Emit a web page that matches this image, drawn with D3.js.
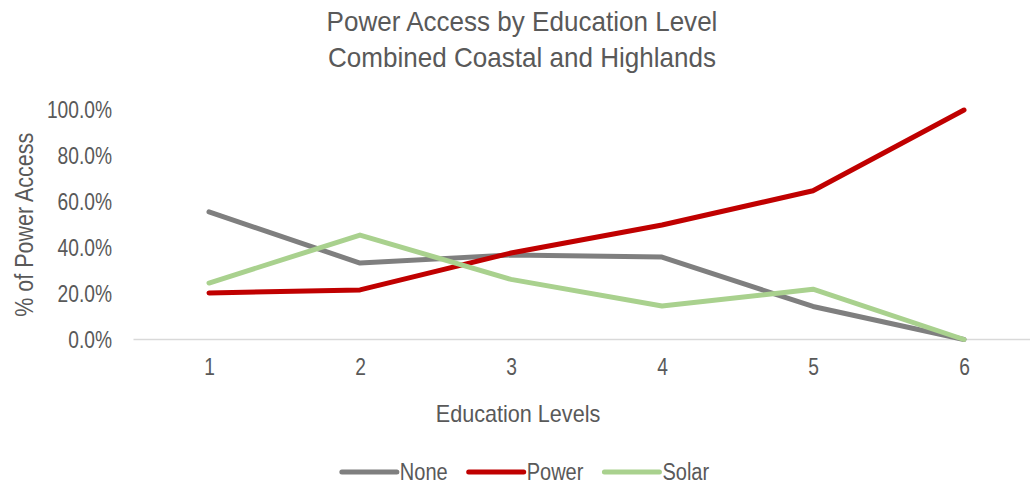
<!DOCTYPE html>
<html>
<head>
<meta charset="utf-8">
<script src="https://cdn.jsdelivr.net/npm/d3@7/dist/d3.min.js"></script>
<style>
  html, body { margin: 0; padding: 0; background: #fff; }
  svg { display: block; }
  text { font-family: "Liberation Sans", Arial, sans-serif; fill: #595959; }
</style>
</head>
<body>
<svg id="chart" width="1030" height="485"></svg>
<script>
// Education levels on the x axis
const categories = ["1", "2", "3", "4", "5", "6"];

// Share of households per access type (fractions)
const noneValues  = [0.556, 0.333, 0.368, 0.359, 0.144, 0.0];
const powerValues = [0.203, 0.216, 0.377, 0.499, 0.648, 1.0];
const solarValues = [0.246, 0.455, 0.262, 0.146, 0.219, 0.0];

const yTicks = [0, 0.2, 0.4, 0.6, 0.8, 1.0];

const seriesNames  = ["None", "Power", "Solar"];
const seriesColors = ["#7f7f7f", "#c00000", "#a9d18e"];

const series = [
  { name: seriesNames[0], values: noneValues,  color: seriesColors[0] },
  { name: seriesNames[1], values: powerValues, color: seriesColors[1] },
  { name: seriesNames[2], values: solarValues, color: seriesColors[2] }
];

const svg = d3.select("#chart");
const W = 1030;
const plot = { left: 133.5, right: 1039.5, top: 110, bottom: 339.5 };

const x = d3.scalePoint().domain(categories).range([plot.left, plot.right]).padding(0.5);
const y = d3.scaleLinear().domain([0, 1]).range([plot.bottom, plot.top]);

// Narrow the glyphs horizontally (no condensed face is available)
function condense(sel, k) {
  sel.each(function () {
    const len = this.getComputedTextLength();
    d3.select(this).attr("textLength", len * k).attr("lengthAdjust", "spacingAndGlyphs");
  });
}

// Title
const title = svg.append("text")
  .attr("text-anchor", "middle")
  .attr("font-size", 28);
title.append("tspan").attr("x", 522).attr("y", 31).text("Power Access by Education Level");
title.append("tspan").attr("x", 522).attr("y", 67).text("Combined Coastal and Highlands");
condense(title.selectAll("tspan"), 0.93);

// Y axis tick labels
const yAxis = d3.axisLeft(y)
  .tickValues(yTicks)
  .tickFormat(d3.format(".1%"))
  .tickSize(0)
  .tickPadding(0);
const gy = svg.append("g")
  .attr("transform", `translate(112,0)`)
  .call(yAxis);
gy.select(".domain").remove();
gy.selectAll("text")
  .attr("font-size", 24)
  .attr("fill", "#595959")
  .attr("font-family", null);
condense(gy.selectAll("text"), 0.8);

// X axis baseline and labels
const xAxis = d3.axisBottom(x).tickSize(0).tickPadding(18);
const gx = svg.append("g")
  .attr("transform", `translate(0,${plot.bottom})`)
  .call(xAxis);
gx.select(".domain")
  .attr("d", `M${plot.left},0H${W}`)
  .attr("stroke", "#d9d9d9")
  .attr("stroke-width", 1.5);
gx.selectAll("text")
  .attr("font-size", 24)
  .attr("fill", "#595959")
  .attr("font-family", null);
condense(gx.selectAll("text"), 0.8);

// Axis titles
const yTitle = svg.append("text")
  .attr("text-anchor", "middle")
  .attr("font-size", 25)
  .attr("transform", `translate(33,${(plot.top + plot.bottom) / 2}) rotate(-90)`)
  .text("% of Power Access");
condense(yTitle, 0.86);

const xTitle = svg.append("text")
  .attr("text-anchor", "middle")
  .attr("x", 518)
  .attr("y", 422)
  .attr("font-size", 24)
  .text("Education Levels");
condense(xTitle, 0.9);

// Series lines
const line = d3.line()
  .x((d, i) => x(categories[i]))
  .y(d => y(d));

svg.append("g")
  .selectAll("path")
  .data(series)
  .join("path")
  .attr("d", d => line(d.values))
  .attr("fill", "none")
  .attr("stroke", d => d.color)
  .attr("stroke-width", 5)
  .attr("stroke-linejoin", "round")
  .attr("stroke-linecap", "round");

// Legend: swatch line, label, laid out in a centred row
const swatch = 55, gap = 3, itemGap = 21;
const legend = svg.append("g").attr("transform", "translate(0,472)");
const items = legend.selectAll("g")
  .data(series)
  .join("g");
items.append("line")
  .attr("x1", 0).attr("x2", swatch)
  .attr("stroke", d => d.color)
  .attr("stroke-width", 5)
  .attr("stroke-linecap", "round");
const labels = items.append("text")
  .attr("x", swatch + gap)
  .attr("y", 8)
  .attr("font-size", 23)
  .text(d => d.name);
condense(labels, 0.87);

const widths = [];
labels.each(function () { widths.push(swatch + gap + (+this.getAttribute("textLength"))); });
const total = d3.sum(widths) + itemGap * (widths.length - 1);
let cursor = 525.5 - total / 2;
items.attr("transform", (d, i) => {
  const t = `translate(${cursor},0)`;
  cursor += widths[i] + itemGap;
  return t;
});
</script>
</body>
</html>
